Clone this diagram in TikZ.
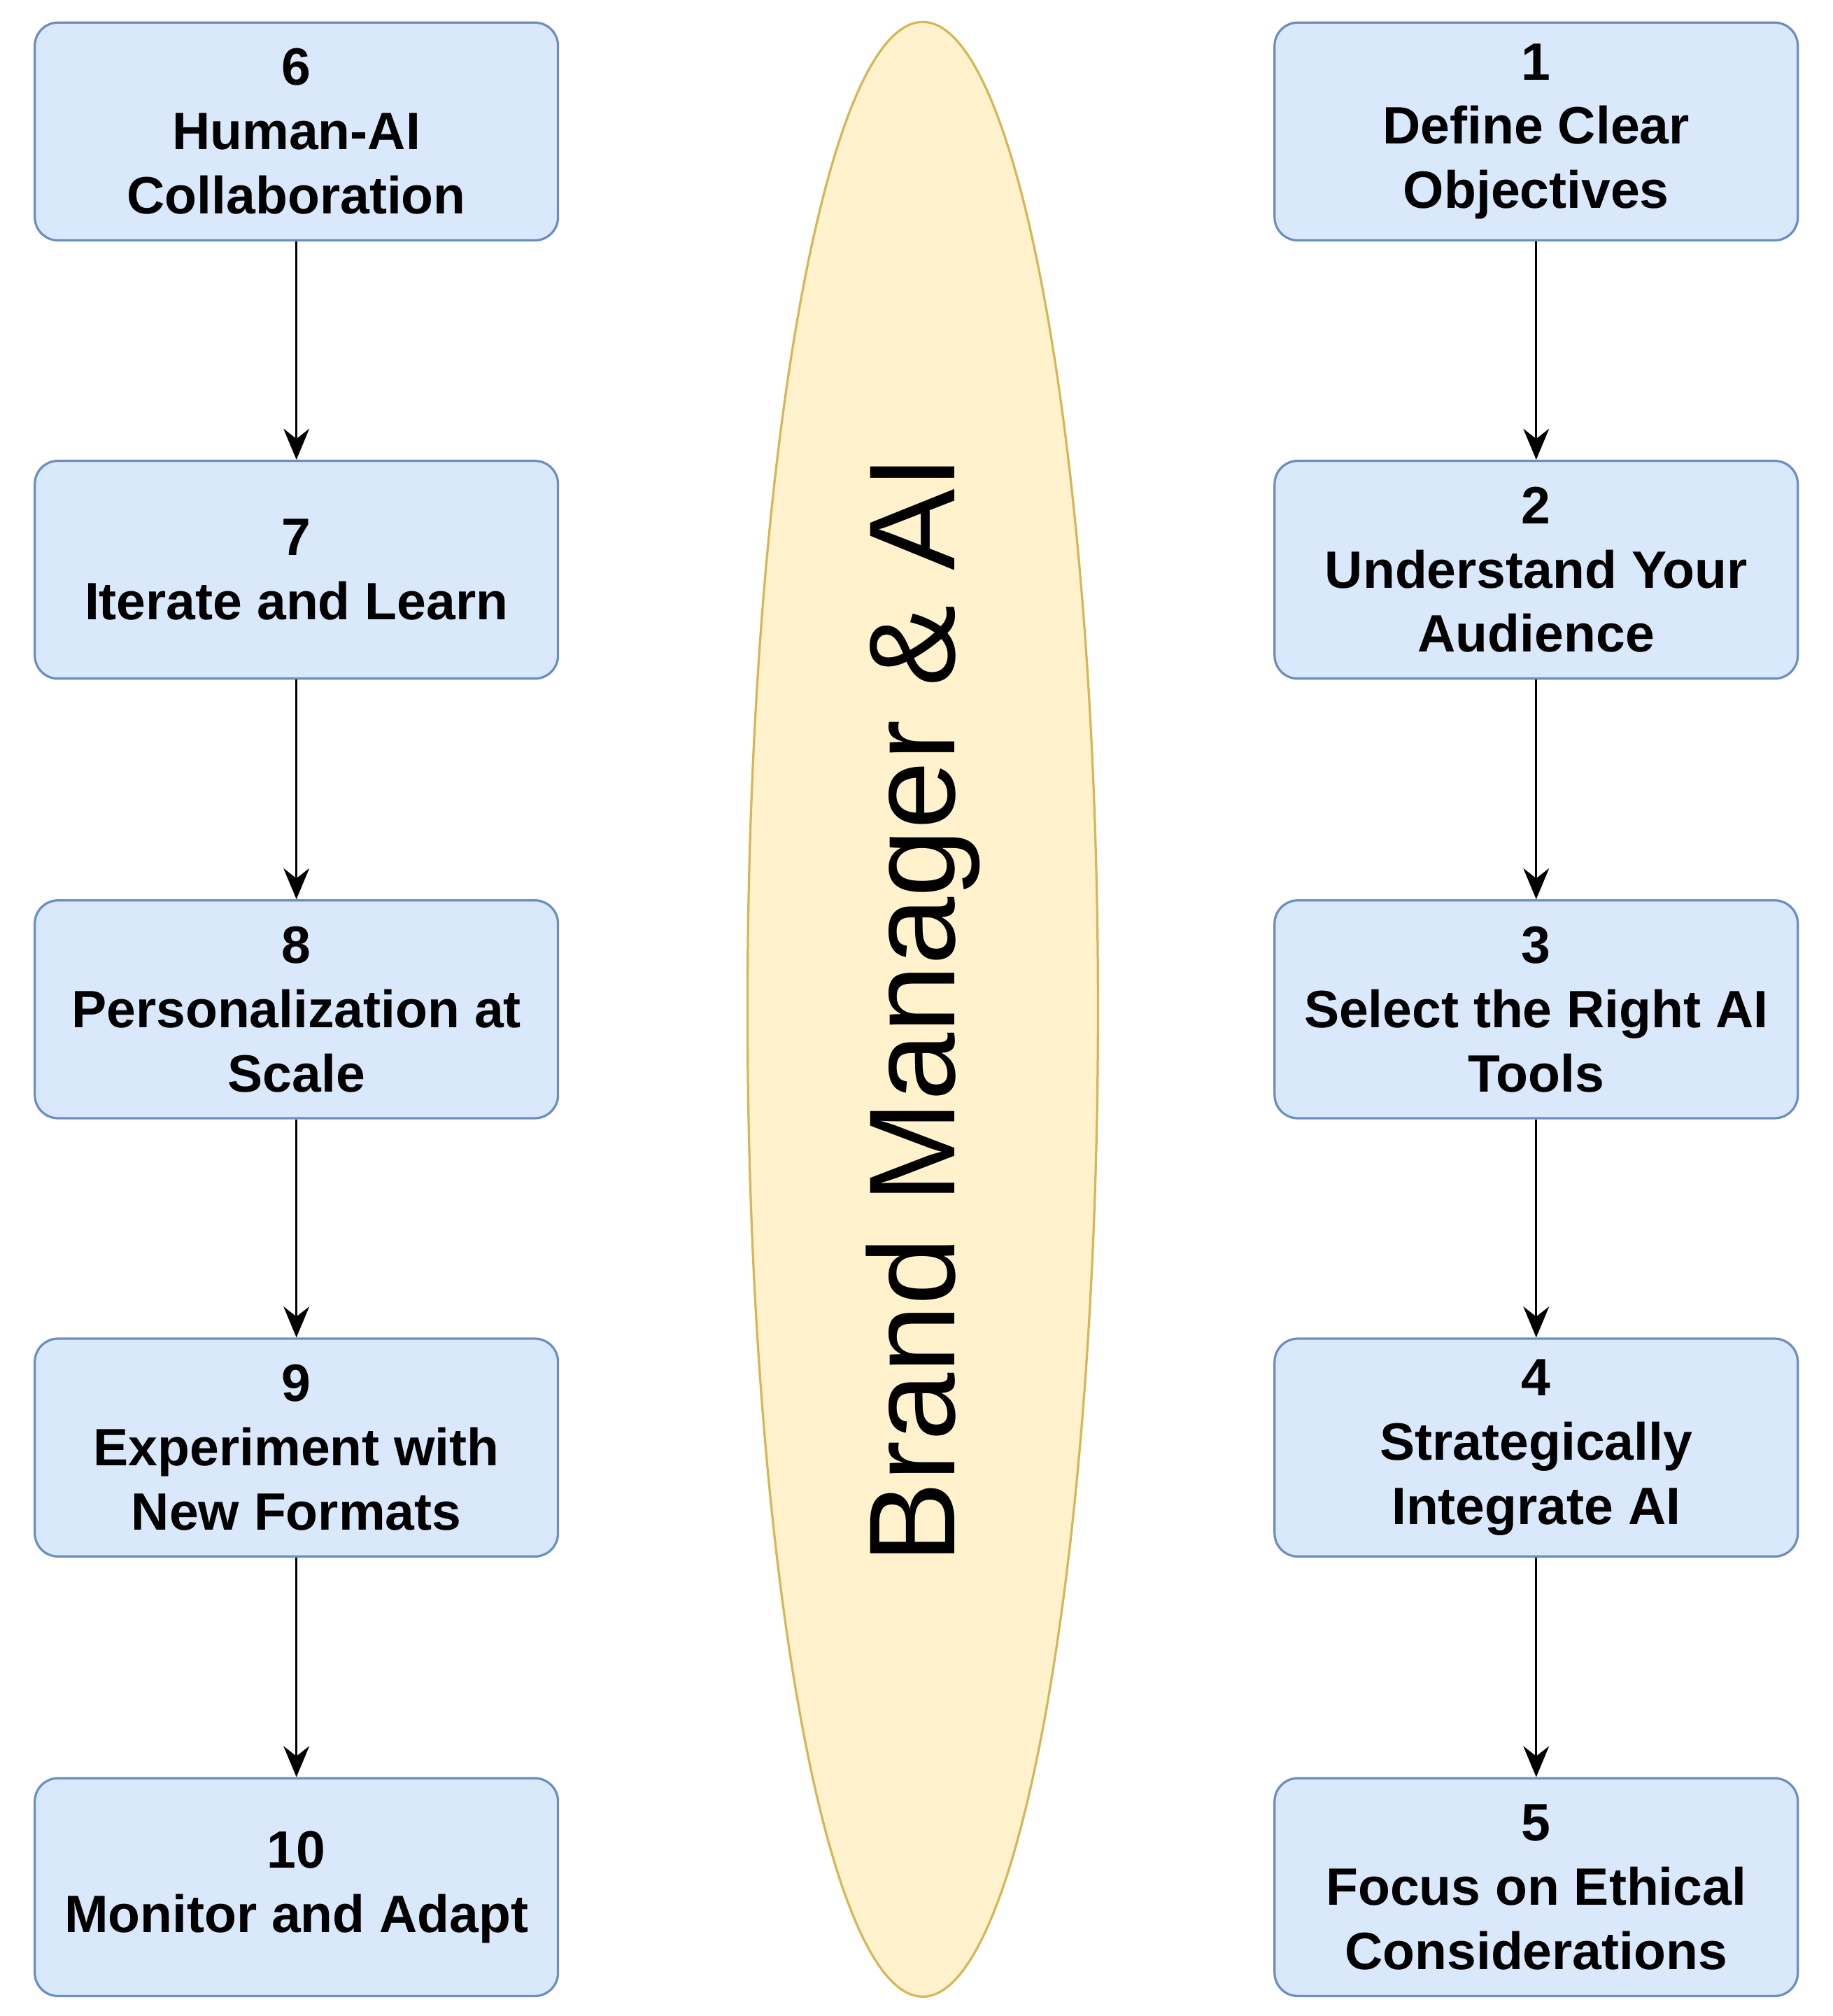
\documentclass[tikz,border=0pt]{standalone}
\usepackage{fontspec}
\setmainfont{Liberation Sans}
\usetikzlibrary{shapes.geometric,arrows.meta}
\definecolor{bfill}{HTML}{DAE8FC}
\definecolor{bdraw}{HTML}{6C8EBF}
\definecolor{efill}{HTML}{FFF2CC}
\definecolor{edraw}{HTML}{D6B656}
\begin{document}
\begin{tikzpicture}[x=0.05cm,y=-0.05cm,
 box/.style={draw=bdraw,fill=bfill,line width=2.5pt,rounded corners=0.9cm,minimum width=20.3cm,minimum height=8.45cm,align=center,font=\fontsize{58}{71}\selectfont\bfseries},
 arr/.style={-{Stealth[length=1.2cm,width=1.0cm]},line width=2.5pt}]
\useasboundingbox (0,0) rectangle (1422,1564);
\node[ellipse,draw=edraw,fill=efill,line width=2.5pt,minimum width=13.6cm,minimum height=76.6cm,inner sep=0] (e) at (716,783) {};
\node[rotate=90,font=\fontsize{135}{140}\selectfont] (t) at (716,783) {Brand Manager \& AI};
\foreach \n/\x/\y/\t in {
 a1/1192/102/{1\\Define Clear\\Objectives},
 a2/1192/442/{2\\Understand Your\\Audience},
 a3/1192/783/{3\\Select the Right AI\\Tools},
 a4/1192/1123/{4\\Strategically\\Integrate AI},
 a5/1192/1464/{5\\Focus on Ethical\\Considerations},
 a6/230/102/{6\\Human-AI\\Collaboration},
 a7/230/442/{7\\Iterate and Learn},
 a8/230/783/{8\\Personalization at\\Scale},
 a9/230/1123/{9\\Experiment with\\New Formats},
 a10/230/1464/{10\\Monitor and Adapt}}
 \node[box] (\n) at (\x,\y) {\t};
\foreach \u/\v in {a1/a2,a2/a3,a3/a4,a4/a5,a6/a7,a7/a8,a8/a9,a9/a10}
 \draw[arr] (\u) -- (\v);
\end{tikzpicture}
\end{document}
